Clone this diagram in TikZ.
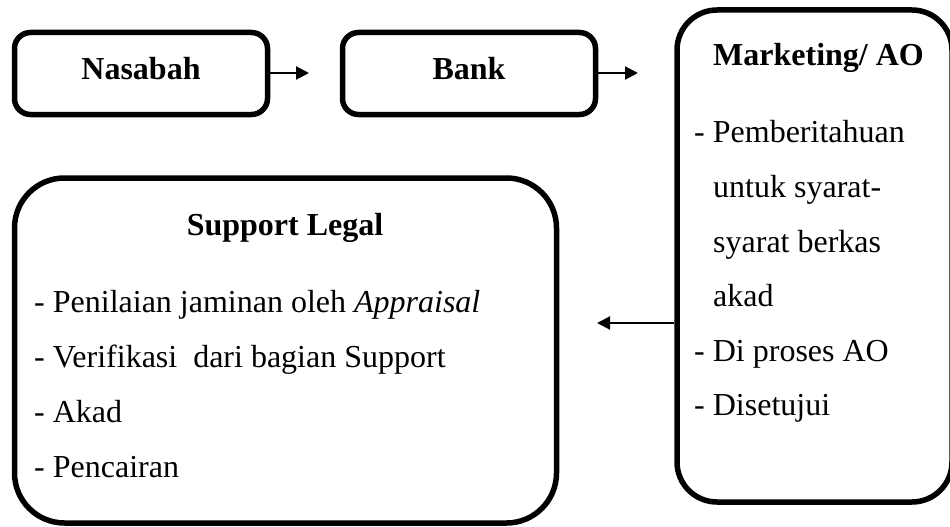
\documentclass[tikz,border=0pt]{standalone}
\usepackage{fontspec}
\setmainfont{Liberation Serif}
\usetikzlibrary{arrows.meta}
\begin{document}
\begin{tikzpicture}[x=1pt,y=-1pt,
  box/.style={draw=black,line width=5.5pt,rounded corners=#1,inner sep=0pt,fill=white},
  box/.default=16pt,
  txt/.style={inner sep=0pt,anchor=base west,font=\fontsize{32}{38}\selectfont},
  ttl/.style={inner sep=0pt,anchor=base,font=\fontsize{32}{38}\selectfont\bfseries},
  arr/.style={line width=2pt,-{Triangle[length=13pt,width=13pt]}}]
\useasboundingbox (0,0) rectangle (950,527);
\node[box, minimum width=253pt, minimum height=82pt] (nas) at (141,73.5) {};
\node[box, minimum width=253pt, minimum height=82pt] (bank) at (469,73.5) {};
\node[box=40pt, minimum width=275pt, minimum height=492pt] (mkt) at (814.5,256) {};
\node[box=50pt, minimum width=542pt, minimum height=345pt] (sup) at (285.5,350.5) {};
\node[ttl] (nast) at (141,79) {Nasabah};
\node[ttl] (bankt) at (469,79) {Bank};
\node[ttl,anchor=base west] (mktt) at (713,66) {Marketing/ AO};
\node[txt] (m1) at (694,142) {- Pemberitahuan};
\node[txt] (m2) at (713,197) {untuk syarat-};
\node[txt] (m3) at (713,252) {syarat berkas};
\node[txt] (m4) at (713,306) {akad};
\node[txt] (m5) at (694,361) {- Di proses AO};
\node[txt] (m6) at (694,415) {- Disetujui};
\node[ttl] (supt) at (285,235) {Support Legal};
\node[txt] (s1) at (34,312) {- Penilaian jaminan oleh \textit{Appraisal}};
\node[txt] (s2) at (34,367) {- Verifikasi\ \ dari bagian Support};
\node[txt] (s3) at (34,422) {- Akad};
\node[txt] (s4) at (34,477) {- Pencairan};
\coordinate (a1) at (309,73);
\coordinate (a2) at (638,73);
\coordinate (a3) at (597,323);
\draw[arr] (nas.east |- a1) -- (a1);
\draw[arr] (bank.east |- a2) -- (a2);
\draw[arr] (mkt.west |- a3) -- (a3);
\end{tikzpicture}
\end{document}
